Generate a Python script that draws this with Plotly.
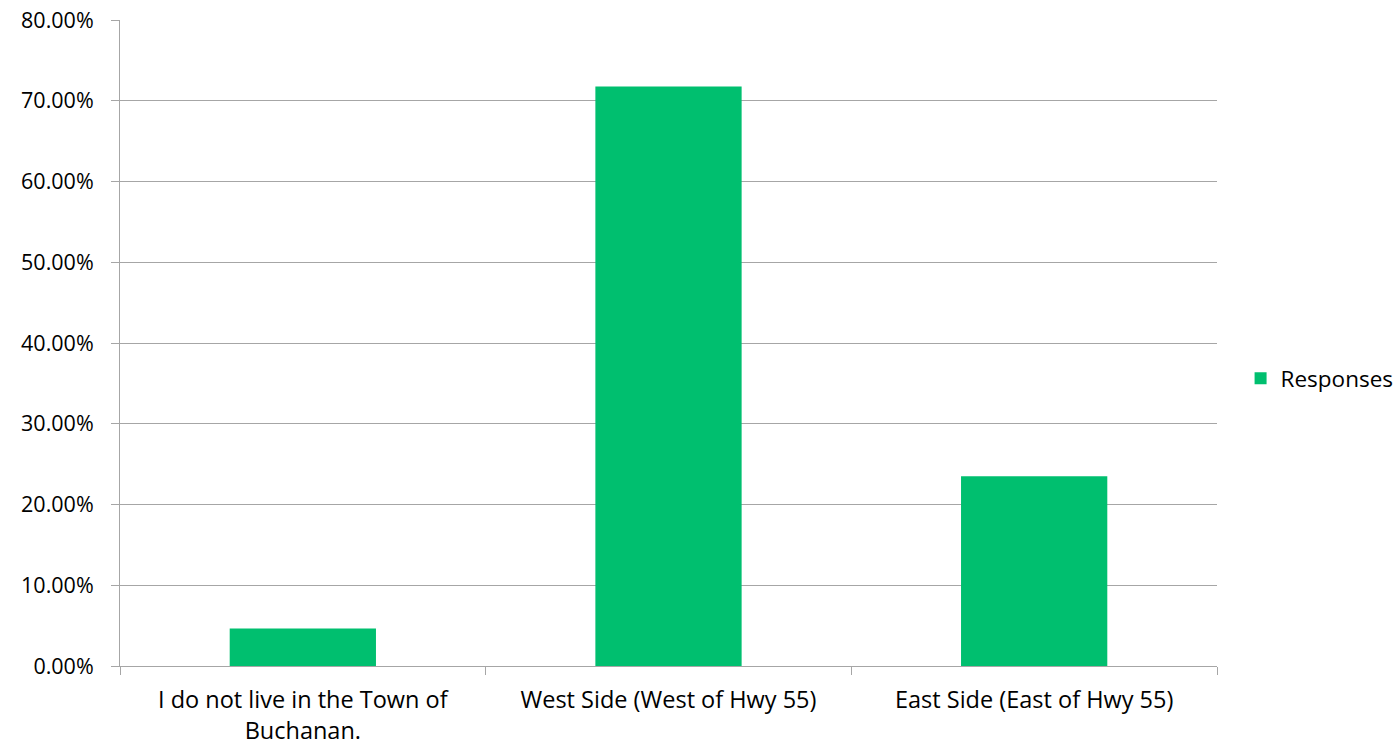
import plotly.graph_objects as go

categories = ["I do not live in the Town of<br>Buchanan.", "West Side (West of Hwy 55)", "East Side (East of Hwy 55)"]
responses = [0.0465, 0.7175, 0.2350]
series_name = "Responses"
y_ticks = [0.0, 0.1, 0.2, 0.3, 0.4, 0.5, 0.6, 0.7, 0.8]
y_tick_labels = ["0.00%", "10.00%", "20.00%", "30.00%", "40.00%", "50.00%", "60.00%", "70.00%", "80.00%"]

FONT = "Open Sans"
GRID = "#A6A6A6"

W, H = 1399, 747
fig = go.Figure()
fig.add_trace(go.Bar(x=categories, y=responses, name=series_name,
                     marker=dict(color="#00BF6F", line=dict(width=0)),
                     width=0.4, showlegend=True))

fig.update_layout(
    width=W, height=H,
    margin=dict(l=120, r=W - 1217, t=20, b=H - 666, autoexpand=False),
    paper_bgcolor="white", plot_bgcolor="white",
    font=dict(family=FONT, size=22, color="#000000"),
    showlegend=True,
    legend=dict(x=1.0215, xanchor="left", y=0.445, yanchor="middle",
                font=dict(family=FONT, size=22.5, color="#000000"),
                itemwidth=30),
    bargap=0.6,
)
fig.update_xaxes(type="category", tickson="boundaries", ticks="outside", ticklen=8,
                 tickcolor=GRID, showline=True, linecolor=GRID, linewidth=1,
                 showgrid=False, tickfont=dict(family=FONT, size=23.5, color="#000000"),
                 ticklabelstandoff=13)
fig.update_yaxes(range=[0, 0.8], tickvals=y_ticks, ticktext=y_tick_labels,
                 ticks="outside", ticklen=8, ticklabeloverflow="allow",
                 ticklabelstandoff=13,
                 tickcolor=GRID, showline=True, linecolor=GRID, linewidth=1,
                 showgrid=True, gridcolor=GRID, gridwidth=1, zeroline=False,
                 tickfont=dict(family=FONT, size=21.5, color="#000000"))

fig.write_html("out.html", config={"displayModeBar": False},
               post_script="document.body.style.margin='0';document.body.style.overflow='hidden';")
